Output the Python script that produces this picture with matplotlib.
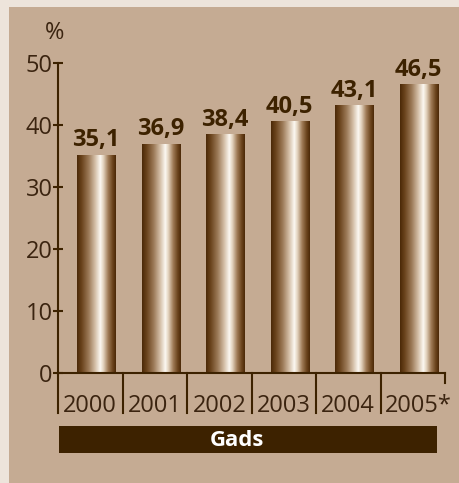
import numpy as np
import matplotlib
matplotlib.use("Agg")
import matplotlib.pyplot as plt
from matplotlib.colors import LinearSegmentedColormap
from matplotlib.patches import Rectangle

# data
years = ["2000", "2001", "2002", "2003", "2004", "2005*"]
values = [35.1, 36.9, 38.4, 40.5, 43.1, 46.5]
value_labels = ["35,1", "36,9", "38,4", "40,5", "43,1", "46,5"]
yticks = [0, 10, 20, 30, 40, 50]

W, H = 460, 483
DARK = "#3d2200"
TEXT = "#3b2410"
plt.rcParams["font.family"] = ["Open Sans", "DejaVu Sans"]

fig = plt.figure(figsize=(W / 100, H / 100), dpi=100, facecolor="#c5ab93")

# light outer border on top and left
fig.patches.append(Rectangle((0, 1 - 7 / H), 1, 7 / H, transform=fig.transFigure,
                             facecolor="#ede4db", edgecolor="none", zorder=-5))
fig.patches.append(Rectangle((0, 0), 9 / W, 1, transform=fig.transFigure,
                             facecolor="#ede4db", edgecolor="none", zorder=-5))

# axes mapped to pixel box
x0, x1, ytop, ybot = 58, 445, 63, 373
ax = fig.add_axes([x0 / W, (H - ybot) / H, (x1 - x0) / W, (ybot - ytop) / H])
ax.set_facecolor("none")

for s in ["top", "right"]:
    ax.spines[s].set_visible(False)
for s in ["left", "bottom"]:
    ax.spines[s].set_color(DARK)
    ax.spines[s].set_linewidth(1.5)

ax.set_yticks(yticks)
ax.set_yticklabels([str(t) for t in yticks])
ax.tick_params(axis="y", direction="inout", length=7.5, width=1.5, color=DARK,
               labelsize=17, labelcolor=TEXT, pad=0)
ax.set_xticks([])

# bars with cylinder gradient
cmap = LinearSegmentedColormap.from_list("cyl", [
    (0.0, "#4b2907"), (0.12, "#6a431c"), (0.3, "#9c7a58"), (0.46, "#d2bca4"),
    (0.6, "#fcf8f2"), (0.68, "#e2d2bd"), (0.8, "#a07c58"), (0.92, "#6a431c"),
    (1.0, "#4b2907")])
grad = np.linspace(0, 1, 256).reshape(1, -1)

xpos = np.arange(len(years)) + 0.5
bars = ax.bar(xpos + 0.09, values, width=0.59, facecolor="none", edgecolor="none")
for b, lab in zip(bars, value_labels):
    bx, bw, bh = b.get_x(), b.get_width(), b.get_height()
    ax.imshow(grad, cmap=cmap, extent=(bx, bx + bw, 0, bh), aspect="auto", zorder=2)
    ax.annotate(lab, (bx + bw / 2, bh), xytext=(0, 6.5), textcoords="offset points",
                ha="center", va="baseline", fontsize=17, fontweight="bold", color=DARK)
ax.set_xlim(0, 6)
ax.set_ylim(0, 50)

# category separators below axis
xt = ax.get_xaxis_transform()
for i in range(len(years)):
    ax.plot([i, i], [0, -40 / 310], transform=xt, color=DARK, lw=1.5, clip_on=False)
ax.plot([6, 6], [0, -10 / 310], transform=xt, color=DARK, lw=1.5, clip_on=False)

for xc, yr in zip(xpos, years):
    ax.text(xc + (0.08 if yr.endswith("*") else 0), -33 / 310, yr, transform=xt,
            ha="center", va="center", fontsize=17, color=TEXT)

# % label
fig.text(55 / W, 1 - 33 / H, "%", ha="center", va="center", fontsize=17, color=TEXT)

# Gads band
fig.patches.append(Rectangle((59 / W, 1 - 453 / H), (437 - 59) / W, 27 / H,
                             transform=fig.transFigure, facecolor=DARK,
                             edgecolor="none", zorder=-4))
fig.text(237 / W, 1 - 440 / H, "Gads", ha="center", va="center", fontsize=16,
         fontweight="bold", color="white")

fig.savefig("out.png", dpi=100, facecolor=fig.get_facecolor())
